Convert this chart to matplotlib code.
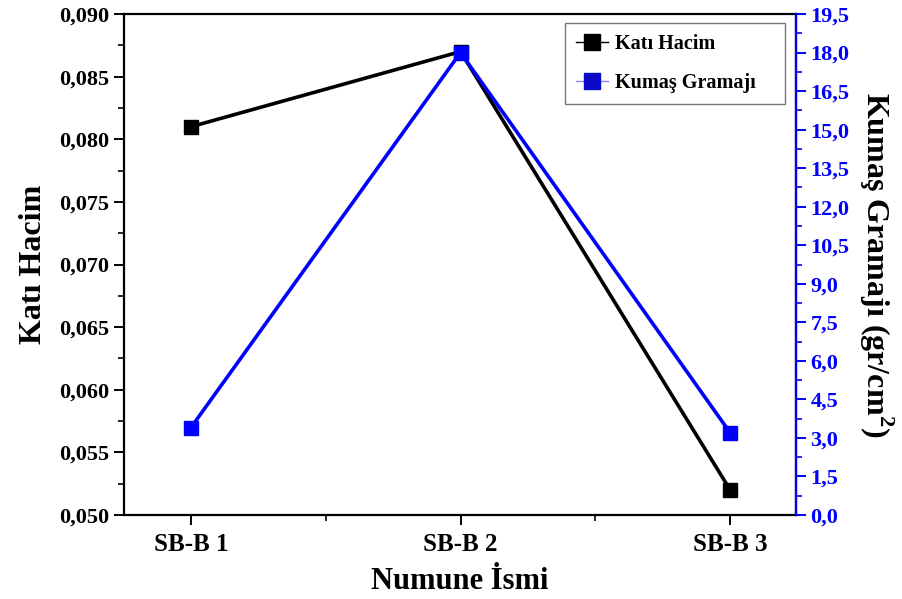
import matplotlib
matplotlib.use("Agg")
import matplotlib.pyplot as plt
from matplotlib.ticker import MultipleLocator, FuncFormatter, FixedLocator

categories = ["SB-B 1", "SB-B 2", "SB-B 3"]
kati_hacim = [0.081, 0.087, 0.052]
kumas_gramaji = [3.4, 18.0, 3.2]

plt.rcParams['font.family'] = ['Liberation Serif', 'DejaVu Serif']
plt.rcParams['font.weight'] = 'bold'
plt.rcParams['mathtext.fontset'] = 'custom'
plt.rcParams['mathtext.rm'] = 'Liberation Serif:bold'
plt.rcParams['mathtext.bf'] = 'Liberation Serif:bold'

fig = plt.figure(figsize=(9.03, 5.99), dpi=100)
ax = fig.add_axes([0.1373, 0.1402, 0.8815 - 0.1373, 0.9766 - 0.1402])
ax2 = ax.twinx()

x = list(range(1, len(categories) + 1))
l1, = ax.plot(x, kati_hacim, color='black', lw=2.6, marker='s', ms=10,
              mfc='black', mec='black', label='Katı Hacim', zorder=3)
l2, = ax2.plot(x, kumas_gramaji, color='#0000ff', lw=2.6, marker='s', ms=10,
               mfc='#0000ff', mec='#0000ff', label='Kumaş Gramajı', zorder=3)

ax.set_xlim(0.752, 3.244)
ax.set_ylim(0.050, 0.090)
ax2.set_ylim(0.0, 19.5)

ax.set_xticks(x)
ax.set_xticklabels(categories)
ax.xaxis.set_minor_locator(FixedLocator([1.5, 2.5]))
ax.yaxis.set_major_locator(MultipleLocator(0.005))
ax.yaxis.set_minor_locator(MultipleLocator(0.0025))
ax.yaxis.set_major_formatter(FuncFormatter(lambda v, p: f"{v:.3f}".replace('.', ',')))
ax2.yaxis.set_major_locator(MultipleLocator(1.5))
ax2.yaxis.set_minor_locator(MultipleLocator(0.75))
ax2.yaxis.set_major_formatter(FuncFormatter(lambda v, p: f"{v:.1f}".replace('.', ',')))

for s in ax.spines.values():
    s.set_linewidth(1.6)
ax2.spines['right'].set_color('#0000ff')
ax2.spines['right'].set_linewidth(1.6)
for s in ['left', 'top', 'bottom']:
    ax2.spines[s].set_visible(False)

ax.tick_params(axis='both', which='major', direction='out', length=7, width=1.4,
               labelsize=16)
ax.tick_params(axis='both', which='minor', direction='out', length=4, width=1.2)
ax.tick_params(axis='x', which='major', pad=6, labelsize=18)
ax2.tick_params(axis='y', which='major', direction='out', length=7, width=1.4,
                colors='#0000ff', labelsize=16)
ax2.tick_params(axis='y', which='minor', direction='out', length=4, width=1.2,
                colors='#0000ff')

for lab in ax.get_xticklabels() + ax.get_yticklabels() + ax2.get_yticklabels():
    lab.set_fontweight('bold')

ax.set_xlabel("Numune İsmi", fontsize=22, fontweight='bold', labelpad=8)
ax.set_ylabel("Katı Hacim", fontsize=23, fontweight='bold', va='center')
ax.yaxis.set_label_coords(-0.135, 0.5)
ax2.set_ylabel("Kumaş Gramajı (gr/cm$^{2}$)", fontsize=23,
               fontweight='bold', rotation=270, va='center')
ax2.yaxis.set_label_coords(1.12, 0.5)

leg = ax2.legend([l1, l2], ['Katı Hacim', 'Kumaş Gramajı'], loc='upper left',
                 bbox_to_anchor=(0.6563, 0.982 - 0.154, 0.9836 - 0.6563, 0.154),
                 mode='expand', fancybox=False, edgecolor='#555555',
                 prop={'family': 'Liberation Serif', 'weight': 'bold', 'size': 14.5},
                 handlelength=1.6, handletextpad=0.35, borderpad=0.55,
                 labelspacing=0.95, borderaxespad=0.0, markerscale=1.15)
leg.get_frame().set_linewidth(1.0)
leg.legend_handles[0].set_linewidth(1.0)
leg.legend_handles[1].set_linewidth(1.0)
leg.legend_handles[1].set_color('#8888ff')
leg.legend_handles[1].set_markerfacecolor('#0a0ac8')
leg.legend_handles[1].set_markeredgecolor('#0a0ac8')

fig.savefig("out.png", dpi=100)
